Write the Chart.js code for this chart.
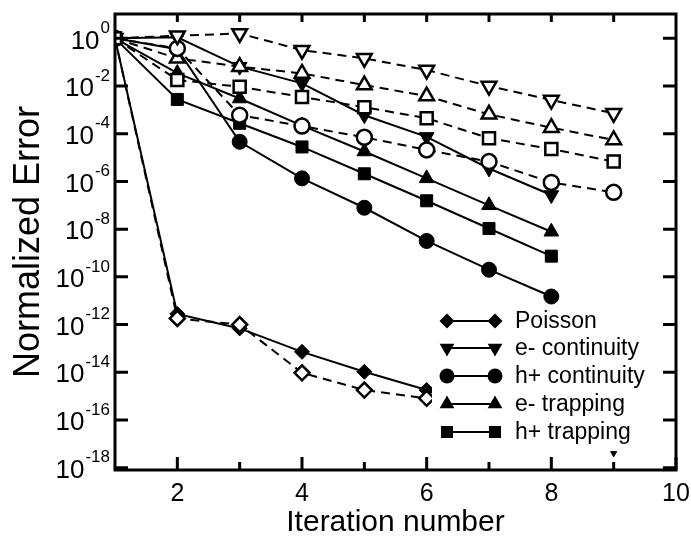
<!DOCTYPE html>
<html>
<head>
<meta charset="utf-8">
<script src="https://cdn.jsdelivr.net/npm/chart.js@4.4.1/dist/chart.umd.min.js"></script>
<style>
  html, body { margin: 0; padding: 0; background: #fff; }
  #wrap { width: 691px; height: 544px; }
</style>
</head>
<body>
<div id="wrap"><canvas id="errChart" width="691" height="544"></canvas></div>
<script>
// iteration numbers (x) and tick labels
const iterations = [1, 2, 3, 4, 5, 6, 7, 8, 9];
const xTickMajor = [2, 4, 6, 8, 10];
const xTickMinor = [3, 5, 7, 9];
const yTickExponents = [0, -2, -4, -6, -8, -10, -12, -14, -16, -18];

// normalized error, solid = filled markers, dashed = open markers
const poissonSolid  = [1, 2.8e-12, 6.9e-13, 7.2e-14, 1.05e-14, 1.8e-15];
const poissonDashed = [1, 1.8e-12, 1.0e-12, 9.5e-15, 1.8e-15, 8.1e-16];
const eContSolid    = [1, 1.1, 6.5e-2, 1.3e-2, 6.0e-4, 7.4e-5, 3.5e-6, 2.7e-7];
const eContDashed   = [1, 1.3, 1.6, 3.2e-1, 1.45e-1, 4.7e-2, 1.0e-2, 2.6e-3, 7.2e-4];
const hContSolid    = [1, 3.5e-1, 4.6e-5, 1.35e-6, 7.9e-8, 3.2e-9, 2.0e-10, 1.5e-11];
const hContDashed   = [1, 3.8e-1, 6.0e-4, 2.1e-4, 7.1e-5, 2.1e-5, 6.8e-6, 9.1e-7, 3.5e-7];
const eTrapSolid    = [1, 3.5e-2, 3.0e-3, 2.2e-4, 1.8e-5, 1.35e-6, 1.0e-7, 7.8e-9];
const eTrapDashed   = [1, 1.45e-1, 6.5e-2, 3.4e-2, 1.1e-2, 3.8e-3, 6.5e-4, 1.8e-4, 5.5e-5];
const hTrapSolid    = [1, 2.75e-3, 2.75e-4, 2.8e-5, 2.1e-6, 1.55e-7, 1.07e-8, 7.4e-10];
const hTrapDashed   = [1, 1.8e-2, 9.3e-3, 3.5e-3, 1.3e-3, 4.5e-4, 6.5e-5, 2.3e-5, 6.8e-6];
// stray e- continuity point sitting on the bottom axis at iteration 9
const eContStrayX = [9];
const eContStrayY = [4e-18];

const legendNames = ['Poisson', 'e- continuity', 'h+ continuity', 'e- trapping', 'h+ trapping'];

const FONT = '"Liberation Sans", Arial, Helvetica, sans-serif';

const marker = {
  poisson: { style: 'rectRot', rot: 0, r: 7.5 },
  eCont:   { style: 'triangle', rot: 180, r: 8.5 },
  hCont:   { style: 'circle', rot: 0, r: 7.5 },
  eTrap:   { style: 'triangle', rot: 0, r: 8.5 },
  hTrap:   { style: 'rect', rot: 0, r: 8.5 }
};

function toPoints(vals, xs) {
  return vals.map((v, i) => ({ x: (xs || iterations)[i], y: v }));
}

function series(vals, m, filled) {
  return {
    data: toPoints(vals),
    borderColor: '#000',
    borderWidth: 2,
    borderDash: filled ? [] : [9, 6],
    pointStyle: m.style,
    rotation: m.rot,
    pointRadius: m.r,
    pointBorderColor: '#000',
    pointBackgroundColor: filled ? '#000' : '#fff',
    pointBorderWidth: filled ? 1 : 2.5,
    tension: 0,
    fill: false
  };
}

// dashed/open first so they sit on top of the filled ones
const datasets = [
  series(hTrapDashed, marker.hTrap, false),
  series(poissonDashed, marker.poisson, false),
  series(eContDashed, marker.eCont, false),
  series(hContDashed, marker.hCont, false),
  series(eTrapDashed, marker.eTrap, false),
  series(poissonSolid, marker.poisson, true),
  series(eContSolid, marker.eCont, true),
  series(hContSolid, marker.hCont, true),
  series(eTrapSolid, marker.eTrap, true),
  series(hTrapSolid, marker.hTrap, true),
  {
    data: toPoints(eContStrayY, eContStrayX),
    showLine: false,
    pointStyle: 'triangle',
    rotation: 180,
    pointRadius: 3.5,
    pointBackgroundColor: '#000',
    pointBorderColor: '#000',
    pointBorderWidth: 1
  }
];

// draw a legend symbol by hand
function drawMark(ctx, m, x, y) {
  ctx.save();
  ctx.translate(x, y);
  ctx.rotate(m.rot * Math.PI / 180);
  ctx.beginPath();
  const r = m.r;
  if (m.style === 'circle') {
    ctx.arc(0, 0, r, 0, Math.PI * 2);
  } else if (m.style === 'rect') {
    const s = r * Math.SQRT1_2;
    ctx.rect(-s, -s, 2 * s, 2 * s);
  } else if (m.style === 'rectRot') {
    ctx.moveTo(0, -r); ctx.lineTo(r, 0); ctx.lineTo(0, r); ctx.lineTo(-r, 0); ctx.closePath();
  } else if (m.style === 'triangle') {
    ctx.moveTo(0, -r);
    ctx.lineTo(r * Math.sin(Math.PI / 3), r / 2);
    ctx.lineTo(-r * Math.sin(Math.PI / 3), r / 2);
    ctx.closePath();
  }
  ctx.fillStyle = '#000';
  ctx.fill();
  ctx.restore();
}

const framePlugin = {
  id: 'frame',
  afterDraw(chart) {
    const ctx = chart.ctx;
    const a = chart.chartArea;
    const xs = chart.scales.x, ys = chart.scales.y;
    ctx.save();

    // legend box (covers the tail of the Poisson curves)
    ctx.fillStyle = '#fff';
    ctx.fillRect(432, 307, 232, 140);
    const legMarks = [marker.poisson, marker.eCont, marker.hCont, marker.eTrap, marker.hTrap];
    const rowY = [321, 348, 376, 404, 432];
    legendNames.forEach((name, i) => {
      const y = rowY[i];
      ctx.strokeStyle = '#000';
      ctx.lineWidth = 2;
      ctx.setLineDash([]);
      ctx.beginPath();
      ctx.moveTo(447, y);
      ctx.lineTo(495, y);
      ctx.stroke();
      drawMark(ctx, legMarks[i], 447, y);
      drawMark(ctx, legMarks[i], 495, y);
      ctx.fillStyle = '#000';
      ctx.font = '23px ' + FONT;
      ctx.textAlign = 'left';
      ctx.textBaseline = 'middle';
      ctx.fillText(name, 515, y + 1);
    });

    // frame
    ctx.strokeStyle = '#000';
    ctx.lineWidth = 3;
    ctx.strokeRect(a.left, a.top, a.right - a.left, a.bottom - a.top);

    // inward ticks
    ctx.lineWidth = 3;
    ctx.beginPath();
    xTickMajor.concat(xTickMinor).forEach(v => {
      const px = xs.getPixelForValue(v);
      const len = xTickMajor.includes(v) ? 13 : 8;
      ctx.moveTo(px, a.bottom); ctx.lineTo(px, a.bottom - len);
    });
    for (let v = 2; v <= 9; v++) {
      const px = xs.getPixelForValue(v);
      ctx.moveTo(px, a.top); ctx.lineTo(px, a.top + 8);
    }
    yTickExponents.forEach(e => {
      const py = ys.getPixelForValue(Math.pow(10, e));
      ctx.moveTo(a.left, py); ctx.lineTo(a.left + 13, py);
      ctx.moveTo(a.right, py); ctx.lineTo(a.right - 13, py);
    });
    ctx.stroke();

    // x tick labels
    ctx.fillStyle = '#000';
    ctx.font = '25px ' + FONT;
    ctx.textAlign = 'center';
    ctx.textBaseline = 'middle';
    xTickMajor.forEach(v => {
      ctx.fillText(String(v), xs.getPixelForValue(v), 494);
    });

    // y tick labels 10^n
    yTickExponents.forEach(e => {
      const py = ys.getPixelForValue(Math.pow(10, e));
      const expText = String(e);
      ctx.font = '17px ' + FONT;
      ctx.textAlign = 'right';
      ctx.textBaseline = 'middle';
      const ew = ctx.measureText(expText).width;
      ctx.fillText(expText, 110, py - 10);
      ctx.font = '26px ' + FONT;
      ctx.fillText('10', 110 - ew - 1, py + 3);
    });

    // axis titles
    ctx.font = '30px ' + FONT;
    ctx.textAlign = 'center';
    ctx.textBaseline = 'middle';
    ctx.fillText('Iteration number', (a.left + a.right) / 2, 523);
    ctx.save();
    ctx.font = '36px ' + FONT;
    ctx.translate(29, (a.top + a.bottom) / 2);
    ctx.rotate(-Math.PI / 2);
    ctx.fillText('Normalized Error', 0, 0);
    ctx.restore();

    ctx.restore();
  }
};

new Chart(document.getElementById('errChart').getContext('2d'), {
  type: 'line',
  data: { datasets: datasets },
  options: {
    responsive: false,
    animation: false,
    devicePixelRatio: 1,
    layout: { padding: { left: 115, right: 15, top: 14, bottom: 74 } },
    plugins: { legend: { display: false }, tooltip: { enabled: false } },
    scales: {
      x: { type: 'linear', min: 1, max: 10, display: false },
      y: { type: 'logarithmic', min: 8e-19, max: 10.5, display: false }
    }
  },
  plugins: [framePlugin]
});
</script>
</body>
</html>
